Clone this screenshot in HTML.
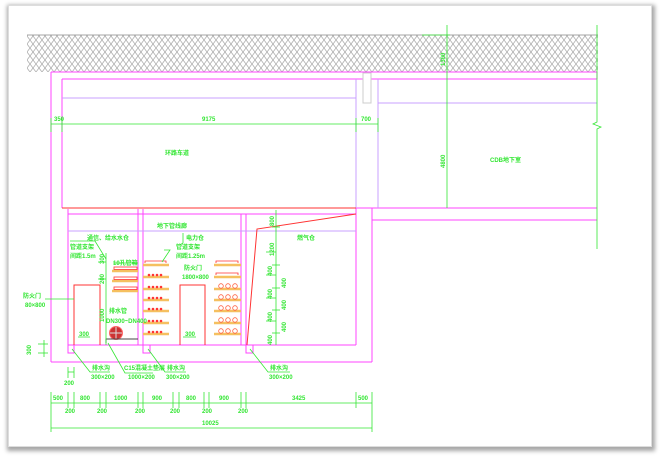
<!DOCTYPE html>
<html><head><meta charset="utf-8"><style>
html,body{margin:0;padding:0;background:#fff;}
#f{position:absolute;left:8px;top:5px;width:644px;height:442px;background:#fff;box-shadow:1px 2px 4px 2px rgba(0,0,0,0.35);border:1px solid #ddd;box-sizing:border-box;}
svg{position:absolute;left:0;top:0;}
text{font-family:"Liberation Sans","Noto Sans CJK SC",sans-serif;font-weight:bold;fill:#33e633;font-size:6px;}
</style></head><body>
<div id="f"></div>
<svg width="660" height="460" viewBox="0 0 660 460">
<defs>
<pattern id="h" width="12" height="8" patternUnits="userSpaceOnUse">
<rect width="12" height="8" fill="#fff"/>
<path d="M0 0 L3 4 L0 8 M6 0 L3 4 L6 8 M6 0 L9 4 L6 8 M12 0 L9 4 L12 8" stroke="#b0b0b0" stroke-width="0.8" fill="none"/>
</pattern>
</defs>
<rect x="27" y="35" width="571" height="37" fill="url(#h)"/>
<line x1="27" y1="35" x2="598" y2="35" stroke="#888" stroke-width="0.8"/>
<g fill="none" stroke-width="1">
<g stroke="#ff44ff">
<line x1="51" y1="72" x2="597" y2="72"/>
<line x1="62" y1="79" x2="597" y2="79"/>
<line x1="51" y1="72" x2="51" y2="362"/>
<line x1="51" y1="362" x2="372" y2="362"/>
<line x1="372" y1="208" x2="372" y2="362"/>
<line x1="62" y1="79" x2="62" y2="208"/>
<line x1="356" y1="208" x2="597" y2="208"/>
<line x1="372" y1="220" x2="597" y2="220"/>
<line x1="597" y1="72" x2="597" y2="79"/>
<line x1="68" y1="214" x2="356" y2="214"/>
<line x1="68" y1="209" x2="68" y2="345"/>
<line x1="68" y1="345" x2="356" y2="345"/>
<line x1="138" y1="209" x2="138" y2="345"/>
<line x1="143" y1="209" x2="143" y2="345"/>
<line x1="241" y1="214" x2="241" y2="345"/>
<line x1="246" y1="214" x2="246" y2="345"/>
<line x1="356" y1="208" x2="356" y2="345"/>
<rect x="68" y="345" width="6" height="8"/>
<rect x="143" y="345" width="7" height="8"/>
<rect x="246" y="345" width="7" height="8"/>
</g>
<g stroke="#c8a0ff">
<line x1="62" y1="98" x2="356" y2="98"/>
<line x1="378" y1="103" x2="597" y2="103"/>
<line x1="356" y1="79" x2="356" y2="208"/>
<line x1="378" y1="79" x2="378" y2="208"/>
<line x1="68" y1="231" x2="356" y2="231"/>
</g>
<rect x="363" y="73" width="8" height="30" stroke="#ccc" fill="#fff"/>
<g stroke="#ff3333">
<line x1="62" y1="208" x2="356" y2="208"/>
<polyline points="356,214 257,229 247,345"/>
<polyline points="74,345 74,285 100,285 100,345"/>
<polyline points="180,345 180,285 205,285 205,345"/>
</g>
<g stroke="#f5c060" stroke-width="2.5">
<line x1="112" y1="271" x2="138" y2="271"/><line x1="112" y1="281" x2="138" y2="281"/><line x1="112" y1="291" x2="138" y2="291"/>
<line x1="143" y1="265" x2="169" y2="265"/><line x1="143" y1="277" x2="169" y2="277"/><line x1="143" y1="289" x2="169" y2="289"/><line x1="143" y1="300" x2="169" y2="300"/><line x1="143" y1="311" x2="169" y2="311"/><line x1="143" y1="323" x2="169" y2="323"/><line x1="143" y1="334" x2="169" y2="334"/>
<line x1="214" y1="265" x2="241" y2="265"/><line x1="214" y1="277" x2="241" y2="277"/><line x1="214" y1="289" x2="241" y2="289"/><line x1="214" y1="300" x2="241" y2="300"/><line x1="214" y1="311" x2="241" y2="311"/><line x1="214" y1="323" x2="241" y2="323"/><line x1="214" y1="334" x2="241" y2="334"/>
</g>
<g stroke="#ff3333" stroke-width="0.8">
<rect x="114" y="267" width="23" height="2.5"/><rect x="114" y="277" width="23" height="2.5"/><rect x="114" y="287" width="23" height="2.5"/>
<polyline points="145,263 145,261 166,261 166,263"/>
<polyline points="216,263 216,261 238,261 238,263"/>
<polyline points="216,275 216,273 238,273 238,275"/>
</g>
<g fill="#ff3333" stroke="none">
<g id="d"><circle cx="149" cy="275" r="1.3"/><circle cx="153" cy="275" r="1.3"/><circle cx="157" cy="275" r="1.3"/><circle cx="161" cy="275" r="1.3"/></g>
<use href="#d" y="12"/><use href="#d" y="23"/><use href="#d" y="34"/><use href="#d" y="46"/><use href="#d" y="57"/>
</g>
<g stroke="#ff6040" stroke-width="0.8">
<g id="c"><circle cx="221" cy="286" r="2.3"/><circle cx="228" cy="286" r="2.3"/><circle cx="235" cy="286" r="2.3"/></g>
<use href="#c" y="11"/><use href="#c" y="22"/><use href="#c" y="34"/><use href="#c" y="45"/>
</g>
<circle cx="116" cy="333" r="6.5" fill="#cc3333" stroke="#ff6666"/>
<line x1="110" y1="333" x2="122" y2="333" stroke="#ddd"/><line x1="116" y1="327" x2="116" y2="339" stroke="#ddd"/>
<polyline points="106,343 106,339 138,339" stroke="#444"/>
<g stroke="#33e633" stroke-width="0.8">
<line x1="51" y1="124" x2="378" y2="124"/>
<line x1="51" y1="118" x2="51" y2="132"/><line x1="62" y1="118" x2="62" y2="132"/><line x1="356" y1="118" x2="356" y2="132"/><line x1="378" y1="118" x2="378" y2="132"/>
<line x1="447" y1="25" x2="447" y2="208"/>
<line x1="422" y1="35" x2="450" y2="35"/>
<polyline points="597,25 597,122 593,124 601,127 597,129 597,249"/>
<line x1="276" y1="210" x2="276" y2="345"/>
<line x1="272" y1="227" x2="280" y2="227"/><line x1="272" y1="265" x2="280" y2="265"/><line x1="272" y1="288" x2="280" y2="288"/><line x1="272" y1="310" x2="280" y2="310"/><line x1="272" y1="333" x2="280" y2="333"/>
<line x1="266" y1="252" x2="276" y2="252"/><line x1="266" y1="275" x2="276" y2="275"/><line x1="266" y1="298" x2="276" y2="298"/><line x1="266" y1="321" x2="276" y2="321"/>
<line x1="106" y1="253" x2="106" y2="345"/>
<line x1="98" y1="262" x2="106" y2="262"/><line x1="98" y1="279" x2="106" y2="279"/>
<line x1="78" y1="337" x2="90" y2="337"/><line x1="183" y1="337" x2="196" y2="337"/>
<line x1="38" y1="344" x2="48" y2="344"/><line x1="38" y1="353" x2="48" y2="353"/><line x1="44" y1="340" x2="44" y2="357"/>
<polyline points="45,299 74,299"/>
<polyline points="72,349 90,372 110,372"/>
<polyline points="108,343 125,373 153,373"/>
<polyline points="148,349 165,372 186,372"/>
<polyline points="250,349 268,372 290,372"/>
<polyline points="70,241 95,241 106,259"/>
<polyline points="164,250 170,250 162,262"/>
<polyline points="183,233 183,243 180,245"/>
<line x1="113" y1="263" x2="138" y2="263"/>
<line x1="68" y1="367" x2="68" y2="378"/><line x1="74" y1="367" x2="74" y2="378"/><line x1="68" y1="372" x2="74" y2="372"/>
<line x1="51" y1="403" x2="372" y2="403"/>
<line x1="51" y1="392" x2="51" y2="432"/><line x1="68" y1="392" x2="68" y2="408"/><line x1="74" y1="392" x2="74" y2="408"/><line x1="100" y1="392" x2="100" y2="408"/><line x1="106" y1="392" x2="106" y2="408"/><line x1="138" y1="392" x2="138" y2="408"/><line x1="143" y1="392" x2="143" y2="408"/><line x1="173" y1="392" x2="173" y2="408"/><line x1="179" y1="392" x2="179" y2="408"/><line x1="204" y1="392" x2="204" y2="408"/><line x1="209" y1="392" x2="209" y2="408"/><line x1="241" y1="392" x2="241" y2="408"/><line x1="246" y1="392" x2="246" y2="408"/><line x1="356" y1="392" x2="356" y2="408"/><line x1="372" y1="392" x2="372" y2="432"/>
<line x1="51" y1="428" x2="372" y2="428"/>
</g>
</g>
<text x="54" y="121" font-size="5.5">350</text>
<text x="202" y="121">9175</text>
<text x="361" y="121">700</text>
<text x="165" y="155" font-size="5.5">环路车道</text>
<text x="490" y="162" font-size="5.5">CDB地下室</text>
<text transform="translate(445,66) rotate(-90)">1300</text>
<text transform="translate(445,168) rotate(-90)">4800</text>
<text x="157" y="228" font-size="5.5">地下管线廊</text>
<text x="87" y="240" font-size="5">通信、给水水仓</text>
<text x="70" y="249" font-size="5">管道支架</text>
<text x="70" y="258" font-size="5">间距1.5m</text>
<text x="113" y="265" font-size="5">10孔管箱</text>
<text x="186" y="240" font-size="5">电力仓</text>
<text x="176" y="249" font-size="5">管道支架</text>
<text x="176" y="258" font-size="5">间距1.25m</text>
<text x="184" y="270" font-size="5">防火门</text>
<text x="182" y="279" font-size="5">1800×800</text>
<text x="297" y="240" font-size="5">燃气仓</text>
<text x="23" y="298" font-size="5">防火门</text>
<text x="25" y="307" font-size="5">80×800</text>
<text x="109" y="313" font-size="5">排水管</text>
<text x="106" y="323" font-size="4.5">DN300~DN400</text>
<text transform="translate(104,264) rotate(-90)" font-size="5">300</text>
<text transform="translate(104,284) rotate(-90)" font-size="5">200</text>
<text transform="translate(104,322) rotate(-90)" font-size="5">1000</text>
<text x="79" y="336" font-size="5">300</text>
<text x="185" y="336" font-size="5">300</text>
<text transform="translate(31,355) rotate(-90)" font-size="5">300</text>
<text transform="translate(274,226) rotate(-90)" font-size="5">800</text>
<text transform="translate(274,256) rotate(-90)" font-size="5">1200</text>
<text transform="translate(272,276) rotate(-90)" font-size="5">400</text>
<text transform="translate(272,299) rotate(-90)" font-size="5">400</text>
<text transform="translate(272,322) rotate(-90)" font-size="5">400</text>
<text transform="translate(272,345) rotate(-90)" font-size="5">400</text>
<text transform="translate(286,288) rotate(-90)" font-size="5">400</text>
<text transform="translate(286,310) rotate(-90)" font-size="5">400</text>
<text transform="translate(286,332) rotate(-90)" font-size="5">400</text>
<text x="92" y="370" font-size="5">排水沟</text>
<text x="91" y="379" font-size="5">300×200</text>
<text x="124" y="370" font-size="4.5">C15混凝土垫层</text>
<text x="128" y="379" font-size="5">1000×200</text>
<text x="167" y="370" font-size="5">排水沟</text>
<text x="166" y="379" font-size="5">300×200</text>
<text x="270" y="370" font-size="5">排水沟</text>
<text x="269" y="379" font-size="5">300×200</text>
<text x="64" y="385">200</text>
<text x="53" y="400">500</text><text x="80" y="400">800</text><text x="114" y="400">1000</text><text x="152" y="400">900</text><text x="186" y="400">800</text><text x="219" y="400">900</text><text x="292" y="400">3425</text><text x="358" y="400">500</text>
<text x="65" y="413">200</text><text x="97" y="413">200</text><text x="135" y="413">200</text><text x="170" y="413">200</text><text x="202" y="413">200</text><text x="238" y="413">200</text>
<text x="202" y="425">10025</text>
</svg>
</body></html>
